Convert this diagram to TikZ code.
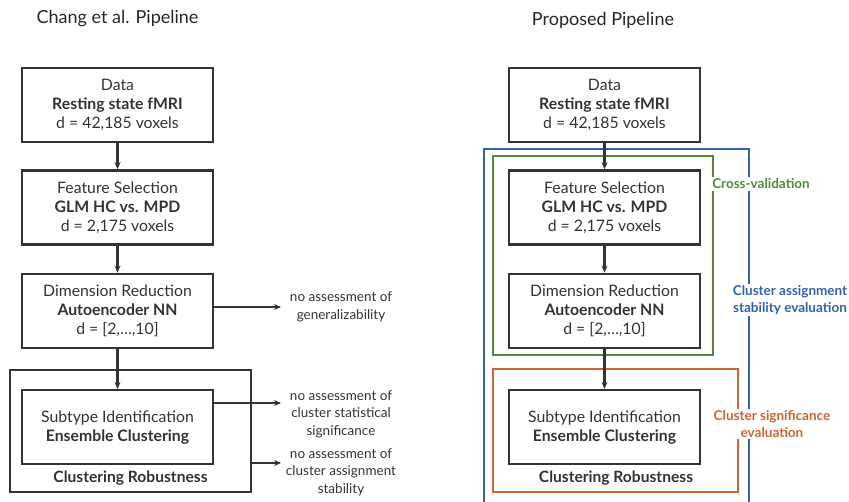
\documentclass[tikz,border=0pt]{standalone}
\usepackage{fontspec}
\setmainfont{Lato}
\usetikzlibrary{arrows.meta, positioning}
\definecolor{textgray}{HTML}{333333}
\definecolor{cvgreen}{HTML}{538B3E}
\definecolor{stabblue}{HTML}{3462A8}
\definecolor{sigorange}{HTML}{CC6530}

\begin{document}
\begin{tikzpicture}[
    x=1pt, y=-1pt,
    box/.style={
        draw=textgray,
        line width=2.4pt,
        minimum width=191pt,
        minimum height=74pt,
        align=center,
        text=textgray,
        font=\fontsize{15.8}{19}\selectfont},
    frame/.style={line width=2pt},
    note/.style={
        align=center,
        text=textgray,
        font=\fontsize{13.5}{17.5}\selectfont},
    evallabel/.style={
        fill=white,
        align=center,
        inner sep=2pt,
        font=\bfseries\fontsize{13.5}{16.5}\selectfont},
    title/.style={text=black!85, font=\fontsize{18}{21}\selectfont},
    >={Stealth[length=7pt, width=6pt]}]
    \useasboundingbox (0,0) rectangle (849,502);

    % Chang et al. pipeline
    \node[title] (changtitle) at (117.5,19) {Chang et al. Pipeline};
    \node[box] (data) at (117.5,105) {Data\\\textbf{Resting state fMRI}\\d = 42,185 voxels};
    \node[box, below=26pt of data] (feat) {Feature Selection\\\textbf{GLM HC vs. MPD}\\d = 2,175 voxels};
    \node[box, below=27pt of feat] (dimred) {Dimension Reduction\\\textbf{Autoencoder NN}\\d = [2,\ldots,10]};
    \node[box, below=40pt of dimred] (subtype) {Subtype Identification\\\textbf{Ensemble Clustering}};
    \node[draw=textgray, line width=2.4pt, minimum width=241pt, minimum height=122pt] (robust) at (130.5,431) {};
    \node[text=textgray, font=\bfseries\fontsize{15.6}{18}\selectfont] (robustlbl) at (130.5,478) {Clustering Robustness};

    \draw[textgray, line width=2.2pt, ->] (data) -- (feat);
    \draw[textgray, line width=2.2pt, ->] (feat) -- (dimred);
    \draw[textgray, line width=2.2pt, ->] (dimred) -- (subtype);

    \node[note] (genlbl) at (341,307) {no assessment of\\generalizability};
    \node[note] (siglbl) at (341,414) {no assessment of\\cluster statistical\\significance};
    \node[note] (stablbl) at (341,472) {no assessment of\\cluster assignment\\stability};
    \coordinate (genend) at (281,307);
    \coordinate (sigend) at (281,403);
    \coordinate (stabend) at (281,463);
    \draw[textgray, line width=1.8pt, ->] (genend -| dimred.east) -- (genend);
    \draw[textgray, line width=1.8pt, ->] (sigend -| subtype.east) -- (sigend);
    \draw[textgray, line width=1.8pt, ->] (stabend -| robust.east) -- (stabend);

    % proposed pipeline
    \node[title] (proptitle) at (603,20) {Proposed Pipeline};
    \node[box] (pdata) at (604.5,105) {Data\\\textbf{Resting state fMRI}\\d = 42,185 voxels};
    \node[box, below=26pt of pdata] (pfeat) {Feature Selection\\\textbf{GLM HC vs. MPD}\\d = 2,175 voxels};
    \node[box, below=27pt of pfeat] (pdimred) {Dimension Reduction\\\textbf{Autoencoder NN}\\d = [2,\ldots,10]};
    \node[box, below=40pt of pdimred] (psubtype) {Subtype Identification\\\textbf{Ensemble Clustering}};
    \node[text=textgray, font=\bfseries\fontsize{15.6}{18}\selectfont] (probustlbl) at (616,478) {Clustering Robustness};

    \draw[frame, stabblue] (484,510) |- (749,149) -- (749,510);
    \draw[frame, cvgreen] (493,156) rectangle (713,355);
    \draw[frame, sigorange] (493,369) rectangle (738,492);

    \draw[textgray, line width=2.2pt, ->] (pdata) -- (pfeat);
    \draw[textgray, line width=2.2pt, ->] (pfeat) -- (pdimred);
    \draw[textgray, line width=2.2pt, ->] (pdimred) -- (psubtype);

    \node[evallabel, text=cvgreen] (cvlbl) at (761,184) {Cross-validation};
    \node[evallabel, text=stabblue] (stablbl) at (790,300) {Cluster assignment\\stability evaluation};
    \node[evallabel, text=sigorange] (siglbl) at (772,424) {Cluster significance\\evaluation};
\end{tikzpicture}
\end{document}
